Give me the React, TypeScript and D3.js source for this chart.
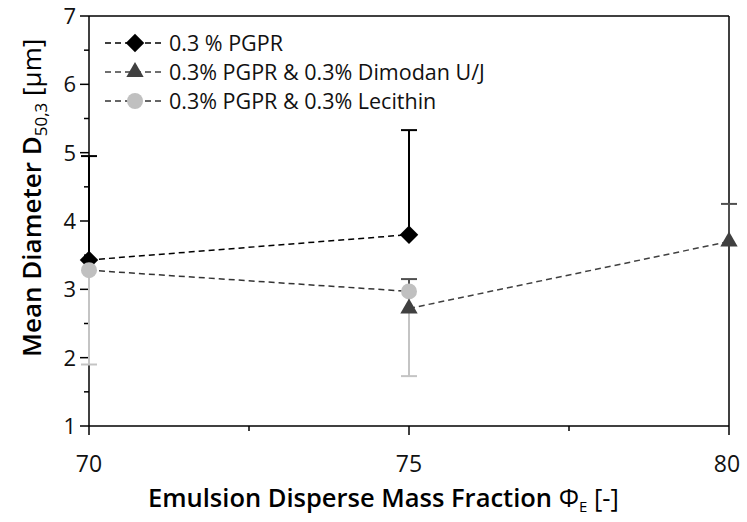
import React from "react";
import * as d3 from "d3";

// Emulsion disperse mass fraction (x) and mean droplet diameter D50,3 in µm (y)
const pgprX = [70, 75];
const pgprY = [3.43, 3.8];
const pgprErrTop = [4.95, 5.33];

const dimodanX = [75, 80];
const dimodanY = [2.72, 3.7];
const dimodanErrTop = [3.15, 4.25];

const lecithinX = [70, 75];
const lecithinY = [3.28, 2.97];
const lecithinErrBottom = [1.9, 1.73];

const xTicks = [70, 75, 80];
const xMinorTicks = [72.5, 77.5];
const yTicks = [1, 2, 3, 4, 5, 6, 7];
const yMinorTicks = [1.5, 2.5, 3.5, 4.5, 5.5, 6.5];

const legendLabels = [
  "0.3 % PGPR",
  "0.3% PGPR & 0.3% Dimodan U/J",
  "0.3% PGPR & 0.3% Lecithin",
];

const W = 747;
const H = 522;
const FONT = "'Open Sans', 'Noto Sans', sans-serif";

const x = d3.scaleLinear().domain([70, 80]).range([89, 729]);
const y = d3.scaleLinear().domain([1, 7]).range([426, 16]);

const line = d3
  .line<[number, number]>()
  .x((d) => x(d[0]))
  .y((d) => y(d[1]));

const square = d3.symbol().type(d3.symbolSquare).size(170)() as string;
const triangle = d3.symbol().type(d3.symbolTriangle).size(130)() as string;

type MarkerKind = "diamond" | "triangle" | "circle";

function Marker({ kind, cx, cy, color }: { kind: MarkerKind; cx: number; cy: number; color: string }) {
  if (kind === "circle") return <circle cx={cx} cy={cy} r={8} fill={color} />;
  if (kind === "diamond")
    return <path d={square} transform={`translate(${cx},${cy}) rotate(45)`} fill={color} />;
  return <path d={triangle} transform={`translate(${cx},${cy})`} fill={color} />;
}

function ErrorBar({ xv, from, to, color }: { xv: number; from: number; to: number; color: string }) {
  const cx = x(xv);
  return (
    <g stroke={color} strokeWidth={2}>
      <line x1={cx} x2={cx} y1={y(from)} y2={y(to)} />
      <line x1={cx - 8} x2={cx + 8} y1={y(to)} y2={y(to)} />
    </g>
  );
}

export default function App() {
  const series = [
    { xs: pgprX, ys: pgprY, kind: "diamond" as MarkerKind, color: "#000000", dash: "#000000" },
    { xs: lecithinX, ys: lecithinY, kind: "circle" as MarkerKind, color: "#c0c0c0", dash: "#333333" },
    { xs: dimodanX, ys: dimodanY, kind: "triangle" as MarkerKind, color: "#404040", dash: "#404040" },
  ];
  const legend = [
    { label: legendLabels[0], kind: "diamond" as MarkerKind, color: "#000000", dash: "#000000" },
    { label: legendLabels[1], kind: "triangle" as MarkerKind, color: "#404040", dash: "#404040" },
    { label: legendLabels[2], kind: "circle" as MarkerKind, color: "#c0c0c0", dash: "#333333" },
  ];

  return (
    <svg
      width={W}
      height={H}
      style={{ position: "absolute", left: 0, top: 0, background: "#fff" }}
      fontFamily={FONT}
    >
      {/* frame */}
      <g stroke="#000" strokeWidth={1.5} fill="none">
        <line x1={x(70)} x2={x(80)} y1={y(7)} y2={y(7)} />
        <line x1={x(80)} x2={x(80)} y1={y(7)} y2={y(1)} />
        <line x1={x(70)} x2={x(80)} y1={y(1)} y2={y(1)} />
        <line x1={x(70)} x2={x(70)} y1={y(7)} y2={y(1)} />
      </g>

      {/* y axis ticks and labels */}
      <g stroke="#000" strokeWidth={1.5}>
        {yTicks.map((t) => (
          <line key={t} x1={x(70) - 9} x2={x(70)} y1={y(t)} y2={y(t)} />
        ))}
        {yMinorTicks.map((t) => (
          <line key={t} x1={x(70) - 5} x2={x(70)} y1={y(t)} y2={y(t)} />
        ))}
      </g>
      <g fontSize={22} fill="#111" textAnchor="end">
        {yTicks.map((t) => (
          <text key={t} x={x(70) - 13} y={y(t) + 8}>
            {t}
          </text>
        ))}
      </g>

      {/* x axis ticks and labels */}
      <g stroke="#000" strokeWidth={1.5}>
        {xTicks.map((t) => (
          <line key={t} x1={x(t)} x2={x(t)} y1={y(1)} y2={y(1) + 9} />
        ))}
        {xMinorTicks.map((t) => (
          <line key={t} x1={x(t)} x2={x(t)} y1={y(1)} y2={y(1) + 5} />
        ))}
      </g>
      <g fontSize={23} fill="#111" textAnchor="middle">
        {xTicks.map((t) => (
          <text key={t} x={x(t) + (t === 80 ? -2 : 0)} y={y(1) + 46}>
            {t}
          </text>
        ))}
      </g>

      {/* axis titles */}
      <text x={148} y={507} fontSize={25.5} fill="#000">
        <tspan fontWeight={600}>Emulsion Disperse Mass Fraction </tspan>
        <tspan>Φ</tspan>
        <tspan fontSize={15} dy={5}>E</tspan>
        <tspan dy={-5}> [-]</tspan>
      </text>
      <text transform="translate(41,357) rotate(-90)" fontSize={26} fill="#000">
        <tspan fontWeight={600}>Mean Diameter D</tspan>
        <tspan fontSize={17} dy={6}>50,3</tspan>
        <tspan dy={-6}> [µm]</tspan>
      </text>

      {/* error bars */}
      {pgprX.map((xv, i) => (
        <ErrorBar key={`p${i}`} xv={xv} from={pgprY[i]} to={pgprErrTop[i]} color="#000000" />
      ))}
      {dimodanX.map((xv, i) => (
        <ErrorBar key={`d${i}`} xv={xv} from={dimodanY[i]} to={dimodanErrTop[i]} color="#505050" />
      ))}
      {lecithinX.map((xv, i) => (
        <ErrorBar key={`l${i}`} xv={xv} from={lecithinY[i]} to={lecithinErrBottom[i]} color="#c4c4c4" />
      ))}

      {/* dashed series lines */}
      {series.map((s, i) => (
        <path
          key={i}
          d={line(s.xs.map((v, j) => [v, s.ys[j]] as [number, number])) as string}
          fill="none"
          stroke={s.dash}
          strokeWidth={1.5}
          strokeDasharray="6,4"
        />
      ))}

      {/* markers */}
      {series.map((s, i) =>
        s.xs.map((v, j) => (
          <Marker key={`${i}-${j}`} kind={s.kind} cx={x(v)} cy={y(s.ys[j])} color={s.color} />
        ))
      )}

      {/* legend */}
      {legend.map((l, i) => {
        const ly = 43 + i * 29;
        return (
          <g key={i}>
            <line x1={105} x2={165} y1={ly} y2={ly} stroke={l.dash} strokeWidth={1.5} strokeDasharray="6,4" />
            <Marker kind={l.kind} cx={135} cy={ly} color={l.color} />
            <text x={169} y={ly + 7.5} fontSize={21.5} fill="#111">
              {l.label}
            </text>
          </g>
        );
      })}
    </svg>
  );
}
